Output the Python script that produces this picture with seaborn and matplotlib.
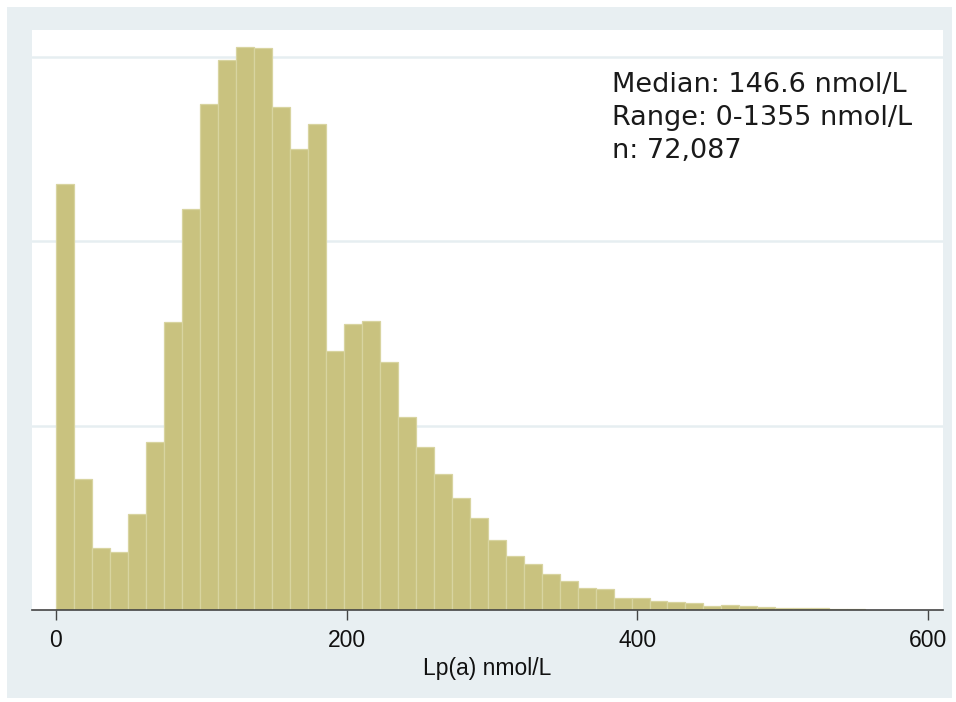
import numpy as np
import pandas as pd
import matplotlib
matplotlib.use("Agg")
import matplotlib.pyplot as plt
from matplotlib import font_manager as fm
import seaborn as sns

# ---- data (density per bin) ----
bin_width = 12.375
density = [0.004623, 0.001422, 0.000676, 0.000633, 0.001045, 0.001823, 0.003120,
           0.004348, 0.005488, 0.005969, 0.006113, 0.006096, 0.005462, 0.005000,
           0.005271, 0.002814, 0.003104, 0.003133, 0.002688, 0.002091, 0.001769,
           0.001479, 0.001210, 0.000995, 0.000756, 0.000589, 0.000502, 0.000387,
           0.000311, 0.000235, 0.000225, 0.000127, 0.000127, 0.000093, 0.000087,
           0.000074, 0.000043, 0.000051, 0.000040, 0.000035, 0.000022, 0.000021,
           0.000017, 0.000012, 0.000012]
x_ticks = [0, 200, 400, 600]
x_label = "Lp(a) nmol/L"
annot_lines = ["Median: 146.6 nmol/L", "Range: 0-1355 nmol/L", "n: 72,087"]
grid_vals = [0.002, 0.004, 0.006]

centers = (np.arange(len(density)) + 0.5) * bin_width
df = pd.DataFrame({"lpa": centers, "density": density})


def regular_font(name):
    for f in fm.fontManager.ttflist:
        if (f.name == name and f.style == "normal" and f.weight in (400, "normal")
                and "narrow" not in f.fname.lower() and f.stretch in ("normal", 500)):
            return f.fname
    return None


sns.set_style("white")
lib_path = regular_font("Liberation Sans")


def axis_font(size):
    if lib_path:
        return fm.FontProperties(fname=lib_path, size=size)
    return fm.FontProperties(family="DejaVu Sans", size=size)


W, H = 956, 702
fig = plt.figure(figsize=(W / 100, H / 100), dpi=100)
fig.patch.set_facecolor("white")

# light blue graph region
bg = plt.Rectangle((7 / W, 4 / H), (952 - 7) / W, (698 - 7) / H,
                   transform=fig.transFigure, facecolor="#E8EFF2",
                   edgecolor="none", zorder=-10)
fig.patches.append(bg)

L, R, T, B = 32, 943, 30, 610
ax = fig.add_axes([L / W, (H - B) / H, (R - L) / W, (B - T) / H])
ax.set_zorder(5)
ax.set_facecolor("white")

sns.histplot(data=df, x="lpa", weights="density", binwidth=bin_width,
             binrange=(0, bin_width * len(density)), stat="count",
             color="#C9C27F", edgecolor="#D8D4A0", linewidth=0.9, alpha=1.0,
             ax=ax, zorder=2)

for g in grid_vals:
    ax.axhline(g, color="#E6EEF1", lw=1.8, zorder=1)

px_per_unit = (928 - 56) / 600.0
ax.set_xlim(-(56 - L) / px_per_unit, 600 + (R - 928) / px_per_unit)
ax.set_ylim(0, 0.002 / 184.3 * (B - T))

ax.set_yticks([])
ax.set_ylabel("")
ax.set_xticks(x_ticks)
ax.set_xticklabels([str(t) for t in x_ticks], fontproperties=axis_font(16.5),
                   color="#111111")
ax.tick_params(axis="x", direction="out", length=7.5, width=1.0,
               color="#444444", pad=6, bottom=True)
ax.set_xlabel(x_label, fontproperties=axis_font(16.5), color="#111111",
              labelpad=4)

for s in ["top", "left", "right"]:
    ax.spines[s].set_visible(False)
ax.spines["bottom"].set_color("#444444")
ax.spines["bottom"].set_linewidth(1.2)

baselines = [92, 125, 158]
for line, b in zip(annot_lines, baselines):
    ax.text((612 - L) / (R - L), (B - b) / (B - T), line,
            transform=ax.transAxes, ha="left", va="baseline",
            fontfamily="DejaVu Sans", fontsize=19.5, color="#1A1A1A")

fig.savefig("out.png", dpi=100, facecolor=fig.get_facecolor())
